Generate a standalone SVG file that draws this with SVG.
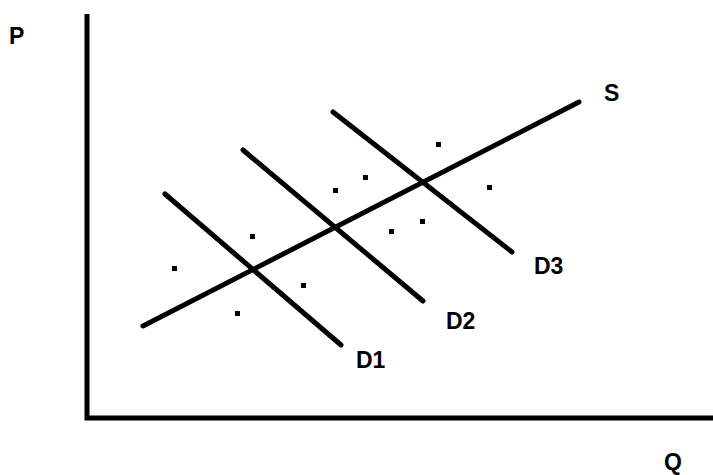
<svg xmlns="http://www.w3.org/2000/svg" width="713" height="475" viewBox="0 0 713 475">
<style>
.ln{stroke:#000;stroke-width:5;stroke-linecap:round;fill:none}
.ax{stroke:#000;stroke-width:5;fill:none}
.lb{font-family:"Liberation Sans",Arial,sans-serif;font-weight:bold;font-size:23px;fill:#000}
.dt{fill:#000}
</style>
<rect width="713" height="475" fill="#fff"/>
<g id="axes">
<path class="ax" d="M87,14 V418 H713"/>
</g>
<g id="connectors">
<line id="S-line" class="ln" x1="143" y1="326" x2="579" y2="102"/>
<line id="D1-line" class="ln" x1="165" y1="194" x2="341" y2="345"/>
<line id="D2-line" class="ln" x1="243" y1="150" x2="423" y2="301"/>
<line id="D3-line" class="ln" x1="333" y1="112" x2="512" y2="252"/>
</g>
<g id="dots">
<rect class="dt" x="172" y="266" width="5" height="5"/>
<rect class="dt" x="250" y="234" width="5" height="5"/>
<rect class="dt" x="301" y="283" width="5" height="5"/>
<rect class="dt" x="235" y="311" width="5" height="5"/>
<rect class="dt" x="333" y="188" width="5" height="5"/>
<rect class="dt" x="363" y="175" width="5" height="5"/>
<rect class="dt" x="436" y="142" width="5" height="5"/>
<rect class="dt" x="487" y="185" width="5" height="5"/>
<rect class="dt" x="420" y="219" width="5" height="5"/>
<rect class="dt" x="389" y="229" width="5" height="5"/>
</g>
<g id="P"><text class="lb" x="9" y="44">P</text></g>
<g id="Q"><text class="lb" x="664" y="470">Q</text></g>
<g id="S"><text class="lb" x="604" y="101">S</text></g>
<g id="D1"><text class="lb" x="356" y="368">D1</text></g>
<g id="D2"><text class="lb" x="446" y="329">D2</text></g>
<g id="D3"><text class="lb" x="534" y="274">D3</text></g>
</svg>
